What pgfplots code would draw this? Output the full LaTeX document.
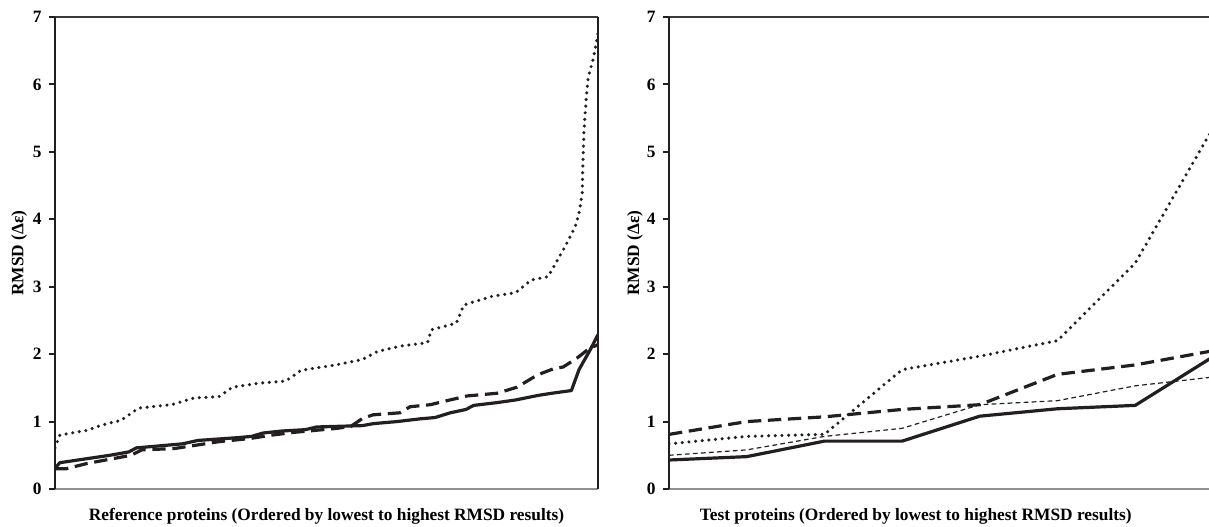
\documentclass[border=0pt]{standalone}
\usepackage{fontspec}
\setmainfont{Liberation Serif}
\usepackage{pgfplots}
\usepackage{pgfplotstable}
\pgfplotsset{compat=1.18}

\definecolor{ink}{HTML}{231F20}
\definecolor{rulegray}{HTML}{8F8F8F}
\definecolor{topgray}{HTML}{3A3A3A}

% reference proteins, index 0..100
\pgfplotstableread{
x y
0 0.61
0.9 0.80
5.9 0.87
8.7 0.95
12.2 1.02
15.4 1.20
21.4 1.25
25.6 1.35
30.2 1.37
32.7 1.51
37.6 1.57
42.5 1.60
45.3 1.76
51.7 1.84
56.6 1.92
59.4 2.04
63.7 2.12
68.6 2.17
69.3 2.36
73.9 2.46
75.3 2.73
80.6 2.86
84.8 2.91
87.7 3.10
90.8 3.15
93.9 3.59
95.8 3.89
96.5 4.09
97.1 4.39
97.2 4.78
97.4 5.28
97.8 5.77
98.2 6.11
99.1 6.37
99.8 6.66
100 6.77
}\refdot

\pgfplotstableread{
x y
0 0.30
2 0.30
6 0.38
10 0.44
14 0.50
16 0.58
22 0.60
26 0.65
30 0.70
36 0.75
40 0.80
44 0.84
48 0.87
52 0.90
54.5 0.93
56.7 1.05
58.6 1.10
63.5 1.13
65.4 1.22
69.1 1.25
72.2 1.31
75.9 1.38
81.4 1.42
85.1 1.51
88.8 1.69
91.7 1.78
93.6 1.81
96.1 1.94
98.5 2.09
100 2.14
}\refdash

\pgfplotstableread{
x y
0 0.31
0.9 0.39
5.9 0.45
10.1 0.50
13.6 0.55
15.0 0.61
19.3 0.64
23.5 0.67
26.3 0.72
33.4 0.76
36.2 0.78
38.3 0.83
41.8 0.86
46.1 0.88
48.2 0.92
56.6 0.94
58.7 0.97
63.0 1.00
67.2 1.04
70.0 1.06
72.8 1.13
75.7 1.18
77.1 1.24
81.3 1.28
84.8 1.32
89.1 1.39
91.5 1.42
95.1 1.46
96.5 1.77
98.6 2.07
100 2.29
}\refsolid

% test proteins
\pgfplotstableread{
x solid thick dot thin
0 0.43 0.81 0.67 0.50
1 0.48 1.00 0.78 0.58
2 0.71 1.07 0.81 0.78
3 0.71 1.18 1.77 0.90
4 1.08 1.25 1.97 1.25
5 1.19 1.70 2.20 1.31
6 1.24 1.84 3.35 1.53
7 1.96 2.05 5.35 1.66
}\testdata

\pgfplotsset{
  rmsd/.style={
    scale only axis, height=354pt,
    ymin=0, ymax=7, ytick={0,...,7},
    xtick=\empty, axis line style={draw=none},
    tick align=outside, tick pos=left,
    major tick length=4.5pt,
    ytick style={line width=1.4pt, ink},
    /pgf/number format/assume math mode=true,
    font=\fontsize{13}{15.6}\selectfont\bfseries,
    yticklabel style={xshift=-2pt},
    clip mode=individual,
    ylabel={RMSD (Δε)},
  },
  solidln/.style={ink, line width=2.4pt, line join=round},
  thickdash/.style={ink, line width=2.4pt, dash pattern=on 10pt off 5pt},
  dotln/.style={ink, line width=2.6pt, line cap=round, dash pattern=on 0pt off 5pt},
  thindash/.style={ink, line width=0.9pt, dash pattern=on 3.5pt off 2.5pt},
}

\begin{document}
\begin{tikzpicture}
\useasboundingbox (0,0) rectangle (906.75pt,395.25pt);

\begin{axis}[rmsd,
  at={(41.25pt,28.5pt)}, anchor=south west,
  width=407.25pt,
  xmin=0, xmax=100,
  ylabel style={at={(axis description cs:-0.066,0.5)}, anchor=center},
  xlabel={Reference proteins (Ordered by lowest to highest RMSD results)},
  xlabel style={at={(axis description cs:0.5,-0.058)}, anchor=center},
]
\addplot[dotln] table[x=x,y=y] {\refdot};
\addplot[thickdash] table[x=x,y=y] {\refdash};
\addplot[solidln] table[x=x,y=y] {\refsolid};
\draw[rulegray, line width=2.2pt] (rel axis cs:0,0) -- (rel axis cs:1,0);
\draw[topgray, line width=2.2pt] (rel axis cs:0,1) -- (rel axis cs:1,1);
\draw[ink, line width=2.2pt] (rel axis cs:0,0) -- (rel axis cs:0,1);
\draw[ink, line width=2.2pt] (rel axis cs:1,0) -- (rel axis cs:1,1);
\end{axis}

\begin{axis}[rmsd,
  at={(501.75pt,28.5pt)}, anchor=south west,
  width=405pt,
  xmin=0, xmax=6.95,
  ylabel style={at={(axis description cs:-0.063,0.5)}, anchor=center},
  xlabel={Test proteins (Ordered by lowest to highest RMSD results)},
  xlabel style={at={(axis description cs:0.457,-0.058)}, anchor=center},
]
\addplot[dotln] table[x=x,y=dot] {\testdata};
\addplot[thindash] table[x=x,y=thin] {\testdata};
\addplot[thickdash] table[x=x,y=thick] {\testdata};
\addplot[solidln] table[x=x,y=solid] {\testdata};
\draw[rulegray, line width=2.2pt] (rel axis cs:0,0) -- (rel axis cs:1,0);
\draw[topgray, line width=2.2pt] (rel axis cs:0,1) -- (rel axis cs:1,1);
\draw[ink, line width=2.2pt] (rel axis cs:0,0) -- (rel axis cs:0,1);
\end{axis}
\end{tikzpicture}
\end{document}
